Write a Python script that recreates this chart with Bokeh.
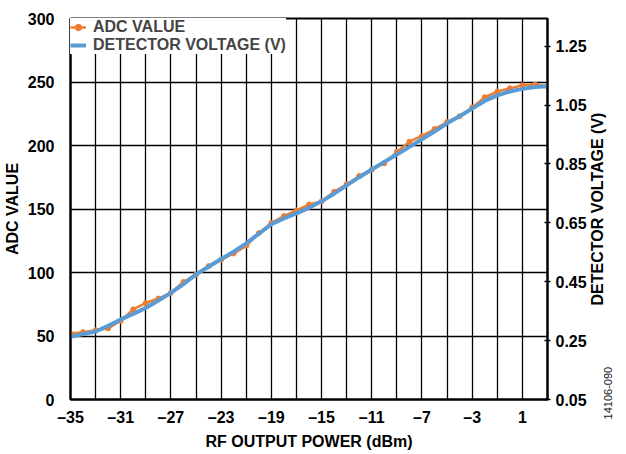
from bokeh.plotting import figure
from bokeh.layouts import row
from bokeh.models import Range1d, LinearAxis, FixedTicker
from bokeh.embed import file_html
from bokeh.resources import INLINE

# ---- data ----
power_dbm = [-35, -34, -33, -32, -31, -30, -29, -28, -27, -26, -25, -24, -23, -22, -21,
             -20, -19, -18, -17, -16, -15, -14, -13, -12, -11, -10, -9, -8, -7, -6,
             -5, -4, -3, -2, -1, 0, 1, 2, 3]
adc_value = [52, 53, 54.5, 56, 62, 71, 76, 79.5, 84, 92.5, 98.5, 105, 110, 115, 121,
             131, 139, 144.4, 149, 153.5, 156, 163.5, 169.5, 176, 181, 186, 195, 203, 207.5, 213,
             218.5, 223, 230, 238, 242.5, 245, 247.5, 248, 246.5]
detector_v = [0.263, 0.272, 0.281, 0.300, 0.322, 0.341, 0.361, 0.386, 0.412, 0.442, 0.475,
              0.501, 0.527, 0.552, 0.580, 0.613, 0.645, 0.665, 0.682, 0.701, 0.723, 0.749,
              0.777, 0.805, 0.831, 0.857, 0.882, 0.908, 0.934, 0.960, 0.988, 1.012, 1.038,
              1.064, 1.083, 1.096, 1.105, 1.111, 1.114]

x_ticks = [-35, -31, -27, -23, -19, -15, -11, -7, -3, 1]
x_grid = list(range(-35, 4, 2))
adc_ticks = [0, 50, 100, 150, 200, 250, 300]
v_ticks = [0.05, 0.25, 0.45, 0.65, 0.85, 1.05, 1.25]
figure_id = "14106-090"

ORANGE = "#ED7D31"
BLUE = "#5B9BD5"
FONT = "Liberation Sans"
FS = "16px"

TOP, BOTTOM, FH = 18, 54, 381

p = figure(frame_width=477, frame_height=FH, output_backend="svg", toolbar_location=None,
           x_range=Range1d(-35, 3), y_range=Range1d(0, 300),
           min_border_left=62, min_border_right=42, min_border_top=TOP, min_border_bottom=BOTTOM)
p.extra_y_ranges = {"v": Range1d(0.05, 1.344)}

p.outline_line_color = "black"
p.outline_line_width = 2
p.outline_line_alpha = 1

# grid
p.xgrid.ticker = FixedTicker(ticks=x_grid)
p.ygrid.ticker = FixedTicker(ticks=adc_ticks)
for g in (p.xgrid[0], p.ygrid[0]):
    g.grid_line_color = "black"
    g.grid_line_width = 1.3
    g.grid_line_alpha = 1

# axes
xa = p.xaxis[0]
xa.ticker = FixedTicker(ticks=x_ticks)
xa.major_label_overrides = {t: (("\u2013" + str(abs(t))) if t < 0 else str(t)) for t in x_ticks}
xa.axis_label = "RF OUTPUT POWER (dBm)"

ya = p.yaxis[0]
ya.ticker = FixedTicker(ticks=adc_ticks)
ya.axis_label = "ADC VALUE"

ra = LinearAxis(y_range_name="v", ticker=FixedTicker(ticks=v_ticks))
ra.major_label_overrides = {t: f"{t:.2f}" for t in v_ticks}
p.add_layout(ra, "right")

for ax in (xa, ya, ra):
    ax.axis_line_color = "black"
    ax.axis_line_width = 2
    ax.minor_tick_line_color = None
    ax.major_label_text_font = FONT
    ax.major_label_text_font_style = "bold"
    ax.major_label_text_font_size = FS
    ax.major_label_text_color = "black"
    ax.axis_label_text_font = FONT
    ax.axis_label_text_font_style = "bold"
    ax.axis_label_text_font_size = FS
    ax.axis_label_text_color = "black"

xa.major_tick_line_color = None
ya.major_tick_line_color = None
xa.major_label_standoff = 3
ya.major_label_standoff = 10
xa.axis_label_standoff = 4
ya.axis_label_standoff = 4
ra.major_tick_line_color = "black"
ra.major_tick_line_width = 1.5
ra.major_tick_in = 3
ra.major_tick_out = 3
ra.major_label_standoff = 5

# data
p.line(power_dbm, adc_value, line_color=ORANGE, line_width=2.5, legend_label="ADC VALUE")
p.scatter(power_dbm, adc_value, size=5, fill_color=ORANGE, line_color=ORANGE,
          legend_label="ADC VALUE")
p.line(power_dbm, detector_v, y_range_name="v", line_color=BLUE, line_width=4,
       legend_label="DETECTOR VOLTAGE (V)")

lg = p.legend[0]
lg.location = "top_left"
lg.margin = 0
lg.padding = 5
lg.spacing = 0
lg.border_line_color = None
lg.background_fill_color = "white"
lg.background_fill_alpha = 1
lg.glyph_width = 16
lg.glyph_height = 16
lg.label_height = 16
lg.label_standoff = 7
lg.label_text_font = FONT
lg.label_text_font_style = "bold"
lg.label_text_font_size = FS
lg.label_text_baseline = "middle"

# side strip: the right-hand axis title and the figure number, drawn by a bare axis
side = figure(width=29, height=TOP + FH + BOTTOM, output_backend="svg", toolbar_location=None,
              x_range=Range1d(0, 1), y_range=Range1d(0, 300),
              x_axis_type=None, y_axis_location="left", min_border=0)
side.outline_line_color = None
side.grid.visible = False
sa = side.yaxis[0]
sa.ticker = FixedTicker(ticks=[5])
sa.major_label_overrides = {5: figure_id}
sa.major_label_orientation = "vertical"
sa.axis_line_color = None
sa.major_tick_line_color = None
sa.minor_tick_line_color = None
sa.major_label_standoff = 0
sa.major_label_text_font = FONT
sa.major_label_text_font_size = "11px"
sa.major_label_text_color = "#222222"
sa.axis_label = "DETECTOR VOLTAGE (V)"
sa.axis_label_standoff = -4
sa.axis_label_text_font = FONT
sa.axis_label_text_font_style = "bold"
sa.axis_label_text_font_size = FS
sa.axis_label_text_color = "black"

layout = row(p, side, spacing=0)
open("out.html", "w").write(file_html(layout, INLINE))
